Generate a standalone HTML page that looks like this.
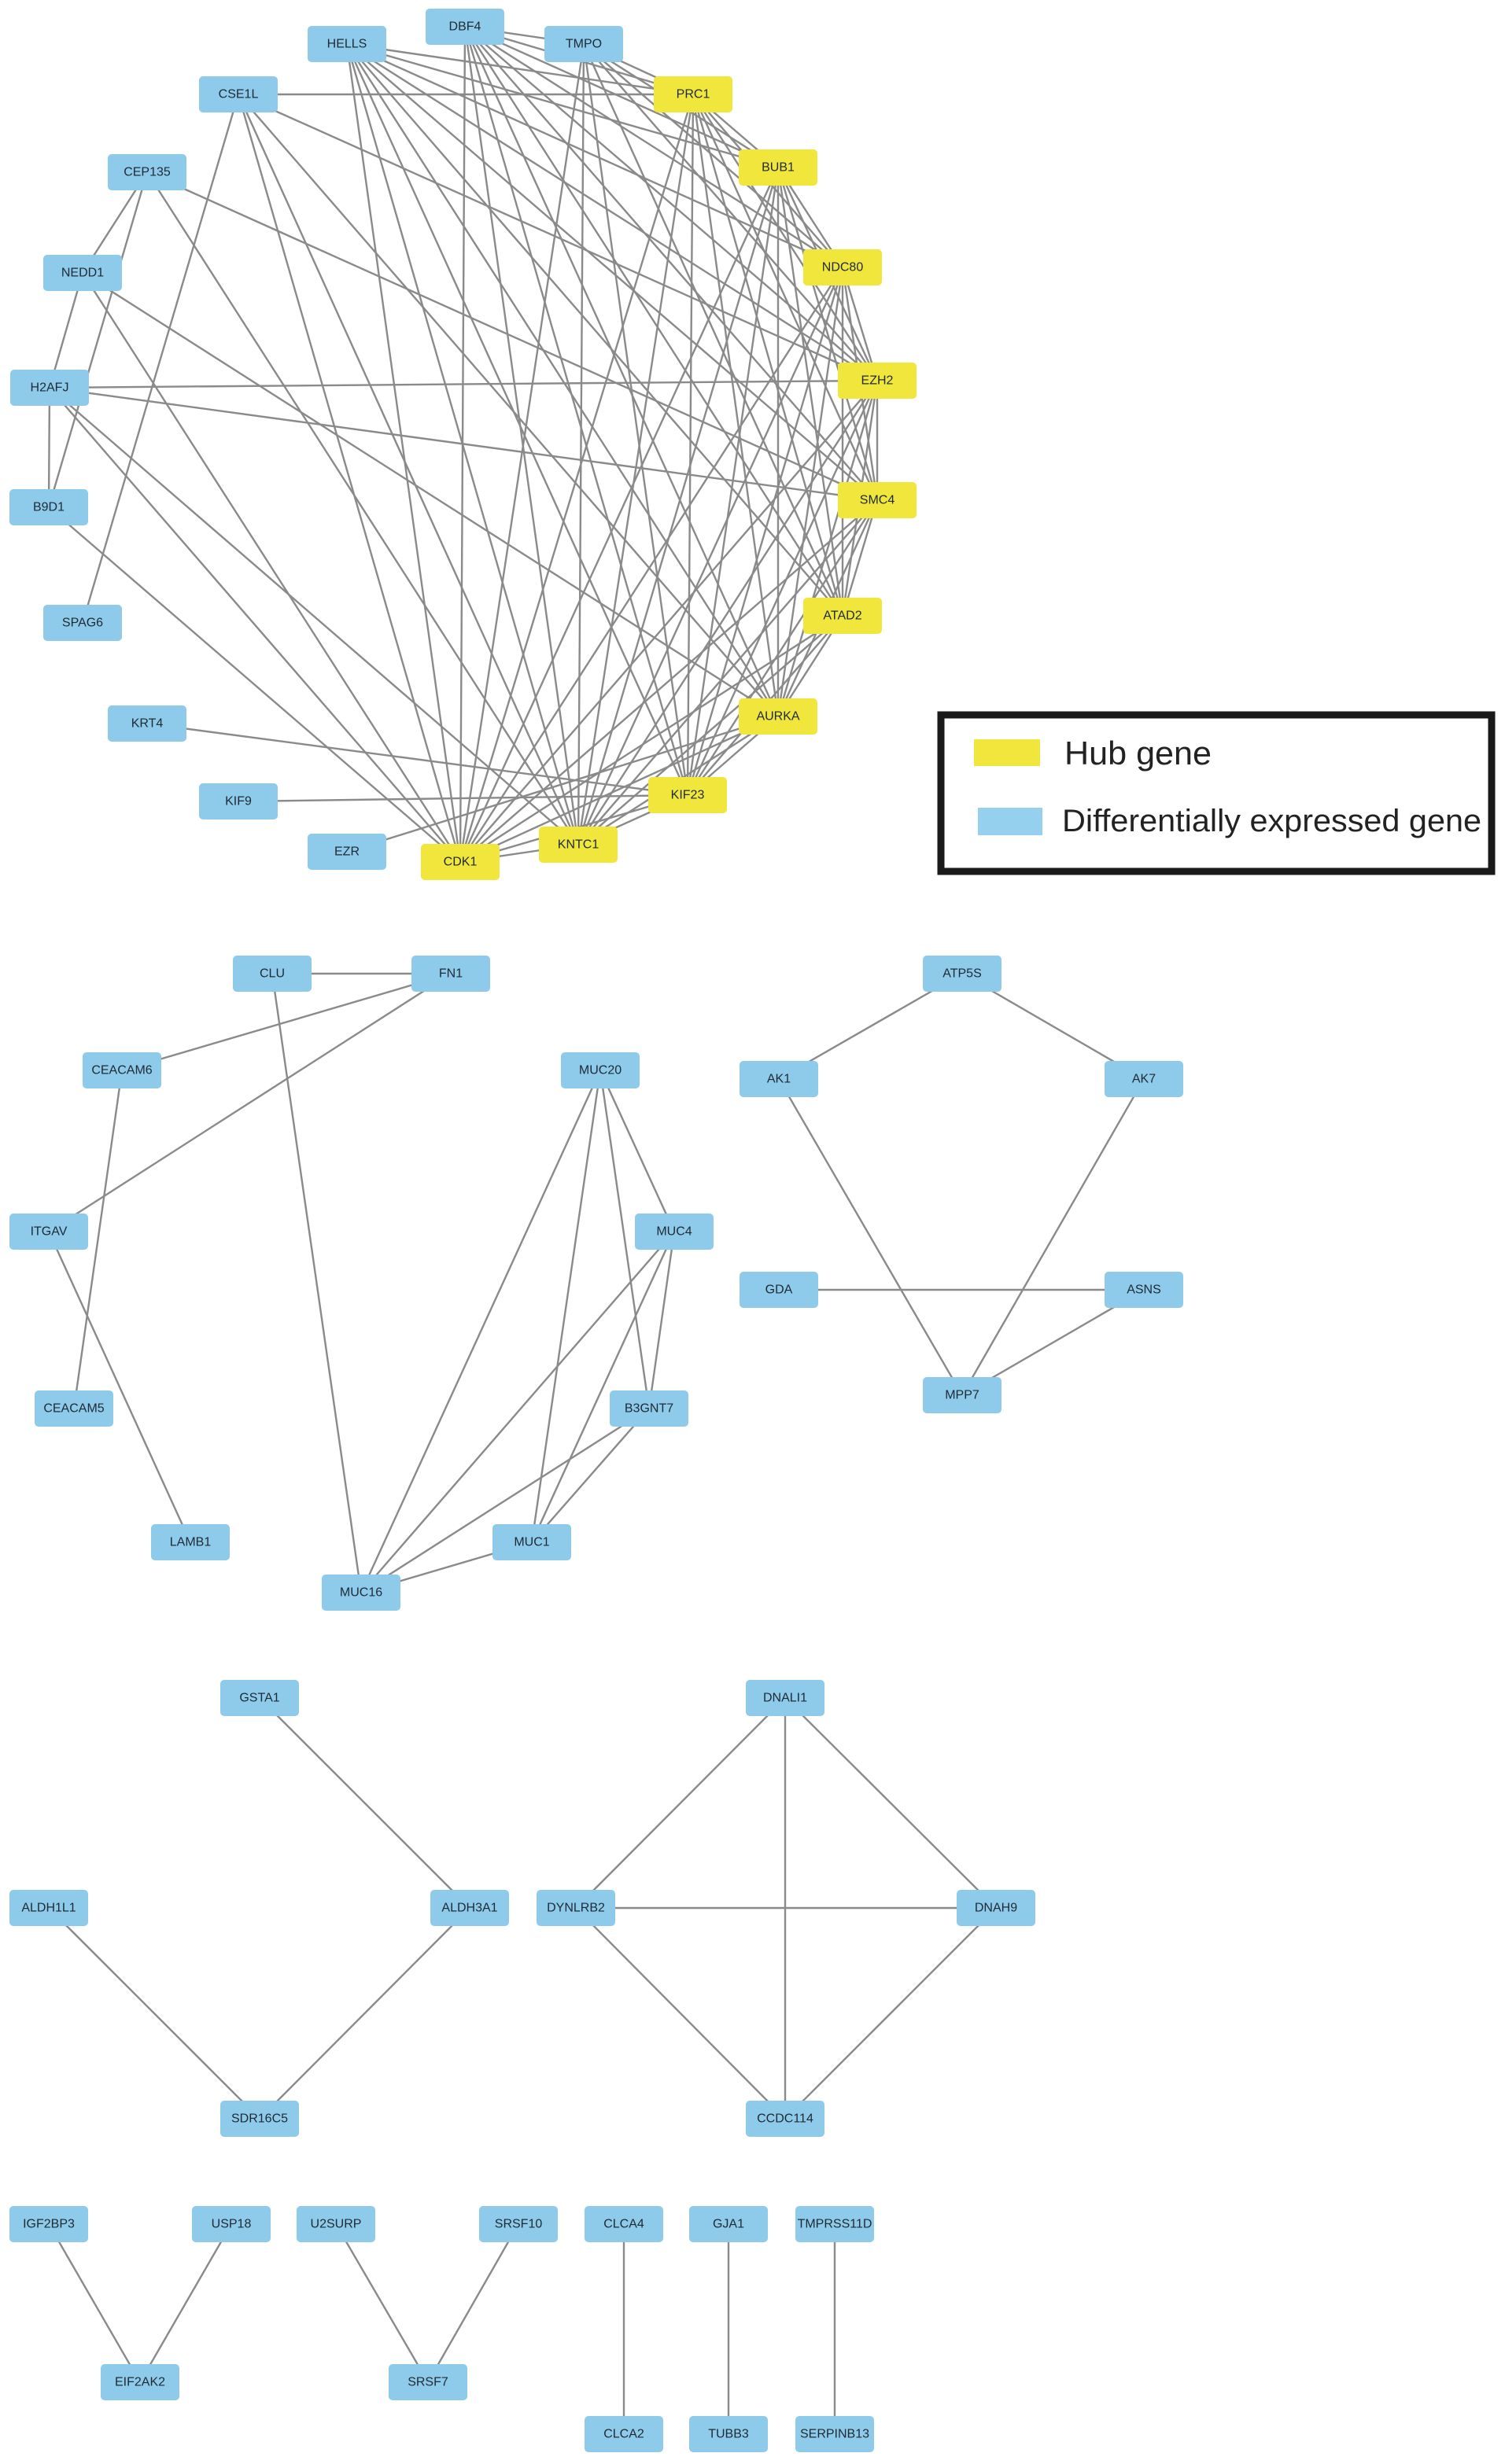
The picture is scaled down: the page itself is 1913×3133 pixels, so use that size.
<!DOCTYPE html>
<html><head><meta charset="utf-8"><style>
html,body{margin:0;padding:0;background:#fff;}
svg{display:block;}
.n rect{rx:5;ry:5;}
.b rect{fill:#8ecbea;}
.y rect{fill:#f0e63c;}
text.l{font-family:"Liberation Sans",sans-serif;font-size:16px;fill:#1e2a33;text-anchor:middle;dominant-baseline:central;}
</style></head><body>
<svg id="s" width="1913" height="3133" viewBox="0 0 1913 3133" xmlns="http://www.w3.org/2000/svg">
<g id="edges" stroke="#8a8a8a" stroke-width="2.4" fill="none"></g>
<!-- legend -->
<rect x="1196" y="909" width="700" height="199" fill="#fff" stroke="#1a1a1a" stroke-width="9"/>
<rect x="1238" y="940" width="84" height="34" fill="#f0e63c"/>
<rect x="1243" y="1027" width="82" height="35" fill="#95d0ee"/>
<text x="1353" y="972" font-family="Liberation Sans, sans-serif" font-size="42" fill="#222" textLength="187" lengthAdjust="spacingAndGlyphs">Hub gene</text>
<text x="1350" y="1057" font-family="Liberation Sans, sans-serif" font-size="40" fill="#222" textLength="533" lengthAdjust="spacingAndGlyphs">Differentially expressed gene</text>

<g class="n b"><rect x="541" y="11" width="100" height="46"/><text class="l" x="591" y="34">DBF4</text></g>
<g class="n b"><rect x="391" y="33" width="100" height="46"/><text class="l" x="441" y="56">HELLS</text></g>
<g class="n b"><rect x="692" y="33" width="100" height="46"/><text class="l" x="742" y="56">TMPO</text></g>
<g class="n b"><rect x="253" y="97" width="100" height="46"/><text class="l" x="303" y="120">CSE1L</text></g>
<g class="n y"><rect x="831" y="97" width="100" height="46"/><text class="l" x="881" y="120">PRC1</text></g>
<g class="n b"><rect x="137" y="196" width="100" height="46"/><text class="l" x="187" y="219">CEP135</text></g>
<g class="n y"><rect x="939" y="190" width="100" height="46"/><text class="l" x="989" y="213">BUB1</text></g>
<g class="n b"><rect x="55" y="324" width="100" height="46"/><text class="l" x="105" y="347">NEDD1</text></g>
<g class="n y"><rect x="1021" y="317" width="100" height="46"/><text class="l" x="1071" y="340">NDC80</text></g>
<g class="n b"><rect x="13" y="470" width="100" height="46"/><text class="l" x="63" y="493">H2AFJ</text></g>
<g class="n y"><rect x="1065" y="461" width="100" height="46"/><text class="l" x="1115" y="484">EZH2</text></g>
<g class="n b"><rect x="12" y="622" width="100" height="46"/><text class="l" x="62" y="645">B9D1</text></g>
<g class="n y"><rect x="1065" y="613" width="100" height="46"/><text class="l" x="1115" y="636">SMC4</text></g>
<g class="n b"><rect x="55" y="769" width="100" height="46"/><text class="l" x="105" y="792">SPAG6</text></g>
<g class="n y"><rect x="1021" y="760" width="100" height="46"/><text class="l" x="1071" y="783">ATAD2</text></g>
<g class="n b"><rect x="137" y="897" width="100" height="46"/><text class="l" x="187" y="920">KRT4</text></g>
<g class="n y"><rect x="939" y="888" width="100" height="46"/><text class="l" x="989" y="911">AURKA</text></g>
<g class="n b"><rect x="253" y="996" width="100" height="46"/><text class="l" x="303" y="1019">KIF9</text></g>
<g class="n y"><rect x="824" y="988" width="100" height="46"/><text class="l" x="874" y="1011">KIF23</text></g>
<g class="n b"><rect x="391" y="1060" width="100" height="46"/><text class="l" x="441" y="1083">EZR</text></g>
<g class="n y"><rect x="685" y="1051" width="100" height="46"/><text class="l" x="735" y="1074">KNTC1</text></g>
<g class="n y"><rect x="535" y="1073" width="100" height="46"/><text class="l" x="585" y="1096">CDK1</text></g>

<g class="n b"><rect x="296" y="1215" width="100" height="46"/><text class="l" x="346" y="1238">CLU</text></g>
<g class="n b"><rect x="523" y="1215" width="100" height="46"/><text class="l" x="573" y="1238">FN1</text></g>
<g class="n b"><rect x="105" y="1338" width="100" height="46"/><text class="l" x="155" y="1361">CEACAM6</text></g>
<g class="n b"><rect x="12" y="1543" width="100" height="46"/><text class="l" x="62" y="1566">ITGAV</text></g>
<g class="n b"><rect x="44" y="1768" width="100" height="46"/><text class="l" x="94" y="1791">CEACAM5</text></g>
<g class="n b"><rect x="192" y="1938" width="100" height="46"/><text class="l" x="242" y="1961">LAMB1</text></g>
<g class="n b"><rect x="409" y="2002" width="100" height="46"/><text class="l" x="459" y="2025">MUC16</text></g>
<g class="n b"><rect x="626" y="1938" width="100" height="46"/><text class="l" x="676" y="1961">MUC1</text></g>
<g class="n b"><rect x="775" y="1768" width="100" height="46"/><text class="l" x="825" y="1791">B3GNT7</text></g>
<g class="n b"><rect x="807" y="1543" width="100" height="46"/><text class="l" x="857" y="1566">MUC4</text></g>
<g class="n b"><rect x="713" y="1338" width="100" height="46"/><text class="l" x="763" y="1361">MUC20</text></g>
<g class="n b"><rect x="1173" y="1215" width="100" height="46"/><text class="l" x="1223" y="1238">ATP5S</text></g>
<g class="n b"><rect x="940" y="1349" width="100" height="46"/><text class="l" x="990" y="1372">AK1</text></g>
<g class="n b"><rect x="1404" y="1349" width="100" height="46"/><text class="l" x="1454" y="1372">AK7</text></g>
<g class="n b"><rect x="940" y="1617" width="100" height="46"/><text class="l" x="990" y="1640">GDA</text></g>
<g class="n b"><rect x="1404" y="1617" width="100" height="46"/><text class="l" x="1454" y="1640">ASNS</text></g>
<g class="n b"><rect x="1173" y="1751" width="100" height="46"/><text class="l" x="1223" y="1774">MPP7</text></g>

<g class="n b"><rect x="280" y="2136" width="100" height="46"/><text class="l" x="330" y="2159">GSTA1</text></g>
<g class="n b"><rect x="12" y="2403" width="100" height="46"/><text class="l" x="62" y="2426">ALDH1L1</text></g>
<g class="n b"><rect x="547" y="2403" width="100" height="46"/><text class="l" x="597" y="2426">ALDH3A1</text></g>
<g class="n b"><rect x="280" y="2671" width="100" height="46"/><text class="l" x="330" y="2694">SDR16C5</text></g>
<g class="n b"><rect x="948" y="2136" width="100" height="46"/><text class="l" x="998" y="2159">DNALI1</text></g>
<g class="n b"><rect x="682" y="2403" width="100" height="46"/><text class="l" x="732" y="2426">DYNLRB2</text></g>
<g class="n b"><rect x="1216" y="2403" width="100" height="46"/><text class="l" x="1266" y="2426">DNAH9</text></g>
<g class="n b"><rect x="948" y="2671" width="100" height="46"/><text class="l" x="998" y="2694">CCDC114</text></g>
<g class="n b"><rect x="12" y="2805" width="100" height="46"/><text class="l" x="62" y="2828">IGF2BP3</text></g>
<g class="n b"><rect x="244" y="2805" width="100" height="46"/><text class="l" x="294" y="2828">USP18</text></g>
<g class="n b"><rect x="128" y="3006" width="100" height="46"/><text class="l" x="178" y="3029">EIF2AK2</text></g>
<g class="n b"><rect x="377" y="2805" width="100" height="46"/><text class="l" x="427" y="2828">U2SURP</text></g>
<g class="n b"><rect x="609" y="2805" width="100" height="46"/><text class="l" x="659" y="2828">SRSF10</text></g>
<g class="n b"><rect x="494" y="3006" width="100" height="46"/><text class="l" x="544" y="3029">SRSF7</text></g>
<g class="n b"><rect x="743" y="2805" width="100" height="46"/><text class="l" x="793" y="2828">CLCA4</text></g>
<g class="n b"><rect x="876" y="2805" width="100" height="46"/><text class="l" x="926" y="2828">GJA1</text></g>
<g class="n b"><rect x="1011" y="2805" width="100" height="46"/><text class="l" x="1061" y="2828">TMPRSS11D</text></g>
<g class="n b"><rect x="743" y="3072" width="100" height="46"/><text class="l" x="793" y="3095">CLCA2</text></g>
<g class="n b"><rect x="876" y="3072" width="100" height="46"/><text class="l" x="926" y="3095">TUBB3</text></g>
<g class="n b"><rect x="1011" y="3072" width="100" height="46"/><text class="l" x="1061" y="3095">SERPINB13</text></g>
</svg>
<script>
var P={DBF4:[591,34],HELLS:[441,56],TMPO:[742,56],CSE1L:[303,120],PRC1:[881,120],CEP135:[187,219],BUB1:[989,213],NEDD1:[105,347],NDC80:[1071,340],H2AFJ:[63,493],EZH2:[1115,484],B9D1:[62,645],SMC4:[1115,636],SPAG6:[105,792],ATAD2:[1071,783],KRT4:[187,920],AURKA:[989,911],KIF9:[303,1019],KIF23:[874,1011],EZR:[441,1083],KNTC1:[735,1074],CDK1:[585,1096],
CLU:[346,1238],FN1:[573,1238],CEACAM6:[155,1361],ITGAV:[62,1566],CEACAM5:[94,1791],LAMB1:[242,1961],MUC16:[459,2025],MUC1:[676,1961],B3GNT7:[825,1791],MUC4:[857,1566],MUC20:[763,1361],ATP5S:[1223,1238],AK1:[990,1372],AK7:[1454,1372],GDA:[990,1640],ASNS:[1454,1640],MPP7:[1223,1774],
GSTA1:[330,2159],ALDH1L1:[62,2426],ALDH3A1:[597,2426],SDR16C5:[330,2694],DNALI1:[998,2159],DYNLRB2:[732,2426],DNAH9:[1266,2426],CCDC114:[998,2694],IGF2BP3:[62,2828],USP18:[294,2828],EIF2AK2:[178,3029],U2SURP:[427,2828],SRSF10:[659,2828],SRSF7:[544,3029],CLCA4:[793,2828],GJA1:[926,2828],TMPRSS11D:[1061,2828],CLCA2:[793,3095],TUBB3:[926,3095],SERPINB13:[1061,3095]};
var E=[];
var hubs=["PRC1","BUB1","NDC80","EZH2","SMC4","ATAD2","AURKA","KIF23","KNTC1","CDK1"];
for(var i=0;i<hubs.length;i++)for(var j=i+1;j<hubs.length;j++)E.push([hubs[i],hubs[j]]);
function add(a,l){l.forEach(function(b){E.push([a,b]);});}
add("DBF4",["TMPO","PRC1","BUB1","NDC80","EZH2","SMC4","ATAD2","AURKA","KIF23","KNTC1","CDK1"]);
add("HELLS",["PRC1","BUB1","NDC80","EZH2","SMC4","ATAD2","AURKA","KIF23","KNTC1","CDK1"]);
add("TMPO",["PRC1","BUB1","NDC80","EZH2","ATAD2","KIF23","KNTC1","CDK1"]);
add("CSE1L",["PRC1","SPAG6","EZH2","AURKA","KNTC1","CDK1"]);
add("CEP135",["NEDD1","B9D1","SMC4","KNTC1"]);
add("NEDD1",["H2AFJ","AURKA","CDK1"]);
add("H2AFJ",["EZH2","SMC4","CDK1","KNTC1","B9D1"]);
add("B9D1",["CDK1"]);
add("KRT4",["KIF23"]);add("KIF9",["KIF23"]);add("EZR",["AURKA"]);
E=E.concat([["CLU","FN1"],["FN1","CEACAM6"],["FN1","ITGAV"],["CLU","MUC16"],["CEACAM6","CEACAM5"],["ITGAV","LAMB1"],["MUC20","MUC16"],["MUC20","MUC1"],["MUC20","MUC4"],["MUC20","B3GNT7"],["MUC4","MUC16"],["MUC4","MUC1"],["MUC4","B3GNT7"],["B3GNT7","MUC16"],["B3GNT7","MUC1"],["MUC1","MUC16"],["ATP5S","AK1"],["ATP5S","AK7"],["AK1","MPP7"],["AK7","MPP7"],["GDA","ASNS"],["ASNS","MPP7"],
["GSTA1","ALDH3A1"],["ALDH1L1","SDR16C5"],["ALDH3A1","SDR16C5"],["DNALI1","DYNLRB2"],["DNALI1","DNAH9"],["DNALI1","CCDC114"],["DYNLRB2","DNAH9"],["DYNLRB2","CCDC114"],["DNAH9","CCDC114"],["IGF2BP3","EIF2AK2"],["USP18","EIF2AK2"],["U2SURP","SRSF7"],["SRSF10","SRSF7"],["CLCA4","CLCA2"],["GJA1","TUBB3"],["TMPRSS11D","SERPINB13"]]);
var g=document.getElementById("edges"),ns="http://www.w3.org/2000/svg";
E.forEach(function(e){var a=P[e[0]],b=P[e[1]];var l=document.createElementNS(ns,"line");l.setAttribute("x1",a[0]);l.setAttribute("y1",a[1]);l.setAttribute("x2",b[0]);l.setAttribute("y2",b[1]);g.appendChild(l);});
</script>
</body></html>
